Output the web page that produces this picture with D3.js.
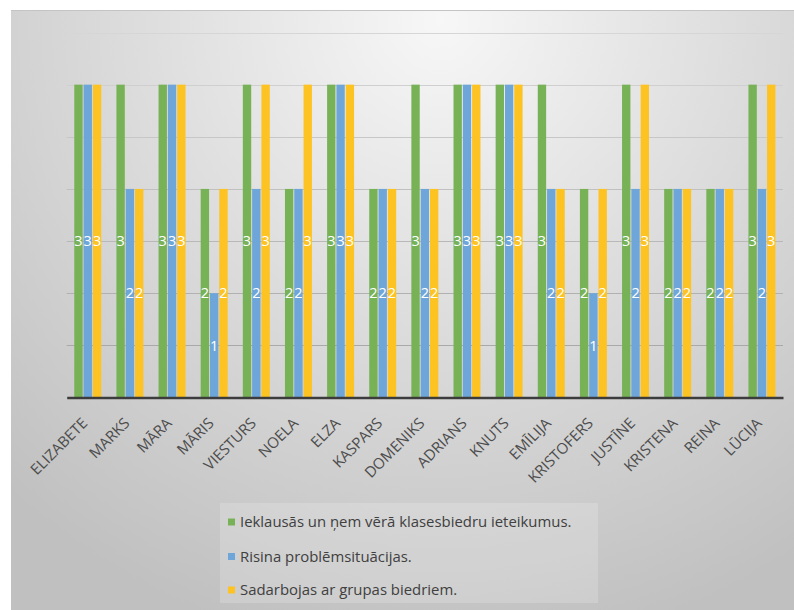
<!DOCTYPE html>
<html><head><meta charset="utf-8">
<script src="https://cdn.jsdelivr.net/npm/d3@7"></script>
<style>html,body{margin:0;padding:0;background:#fff;}svg{display:block;}</style>
</head><body>
<svg id="c" width="794" height="610"></svg>
<script>
const categories = ["ELIZABETE","MARKS","MĀRA","MĀRIS","VIESTURS","NOELA","ELZA","KASPARS","DOMENIKS","ADRIANS","KNUTS","EMĪLIJA","KRISTOFERS","JUSTĪNE","KRISTENA","REINA","LŪCIJA"];
const seriesNames = ["Ieklausās un ņem vērā klasesbiedru ieteikumus.","Risina problēmsituācijas.","Sadarbojas ar grupas biedriem."];
const listens = [3,3,3,2,3,2,3,2,3,3,3,3,2,3,2,2,3];
const solves  = [3,2,3,1,2,2,3,2,2,3,3,2,1,2,2,2,2];
const coop    = [3,2,3,2,3,3,3,2,2,3,3,2,2,3,2,2,3];
const yTicks = [0.5,1,1.5,2,2.5,3,3.5];
const colors = ["#78b257","#6fa6d9","#fdc322"];

const seriesVals = [listens, solves, coop];
const svg = d3.select("#c");
const defs = svg.append("defs");
const rg = defs.append("radialGradient").attr("id","bg").attr("gradientUnits","userSpaceOnUse")
  .attr("cx",440).attr("cy",20).attr("r",640);
rg.append("stop").attr("offset","0").attr("stop-color","#f7f7f7");
rg.append("stop").attr("offset","0.45").attr("stop-color","#dedede");
rg.append("stop").attr("offset","1").attr("stop-color","#c0c0c0");

svg.append("rect").attr("x",11).attr("y",10).attr("width",783).attr("height",600).attr("fill","url(#bg)");
svg.append("line").attr("x1",11).attr("x2",794).attr("y1",10.5).attr("y2",10.5).attr("stroke","#c4c4c4");

const pLeft=66.7, pRight=783, pTop=32.5, pBottom=397.5;
const y = d3.scaleLinear().domain([0,3.5]).range([pBottom,pTop]);
const x0 = d3.scaleBand().domain(categories).range([pLeft,pRight]).paddingInner(0.36).paddingOuter(0.18);
const x1 = d3.scaleBand().domain([0,1,2]).range([0,x0.bandwidth()]).paddingInner(0.1);

// gridlines
const gcol = d3.scaleLinear().domain([3.5,0.5]).range(["#d6d6d6","#a9a9a9"]);
svg.append("g").selectAll("line").data(yTicks).join("line")
  .attr("x1",pLeft).attr("x2",pRight)
  .attr("y1",d=>Math.round(y(d))+0.5).attr("y2",d=>Math.round(y(d))+0.5)
  .attr("stroke",d=>gcol(d)).attr("stroke-width",1.2);

// bars
const g = svg.append("g");
categories.forEach((c,i)=>{
  seriesVals.forEach((vals,s)=>{
    const v = vals[i];
    g.append("rect").attr("x",x0(c)+x1(s)).attr("width",x1.bandwidth())
      .attr("y",y(v)).attr("height",y(0)-y(v)).attr("fill",colors[s]);
  });
});
// labels
categories.forEach((c,i)=>{
  seriesVals.forEach((vals,s)=>{
    const v = vals[i];
    g.append("text").attr("x",x0(c)+x1(s)+x1.bandwidth()/2).attr("y",y(v/2))
      .attr("dy","0.36em").attr("text-anchor","middle")
      .attr("font-family","Open Sans").attr("font-size",14.5).attr("fill","#ffffff")
      .text(v);
  });
});

// axis
const xAxis = d3.axisBottom(x0).tickSize(0).tickPadding(0);
const ax = svg.append("g").attr("transform",`translate(0,${pBottom})`).call(xAxis);
ax.select(".domain").attr("stroke","#3c3c3c").attr("stroke-width",2.5);
ax.selectAll(".tick text")
  .attr("font-family","Open Sans").attr("font-size",15).attr("fill","#4d4d4d")
  .attr("text-anchor","end").attr("dy","0.35em")
  .attr("transform","translate(-3,23) rotate(-45)").attr("y",0).attr("x",0);

// legend
const lg = svg.append("g");
lg.append("rect").attr("x",220).attr("y",503).attr("width",378).attr("height",100).attr("fill","#ffffff").attr("opacity",0.18);
const rowY = [522,556.5,590];
seriesNames.forEach((n,s)=>{
  lg.append("rect").attr("x",228).attr("y",rowY[s]-3.5).attr("width",7).attr("height",7).attr("fill",colors[s]);
  lg.append("text").attr("x",240).attr("y",rowY[s]).attr("dy","0.35em")
    .attr("font-family","Open Sans").attr("font-size",14.9).attr("fill","#404040").text(n);
});
</script>
</body></html>
